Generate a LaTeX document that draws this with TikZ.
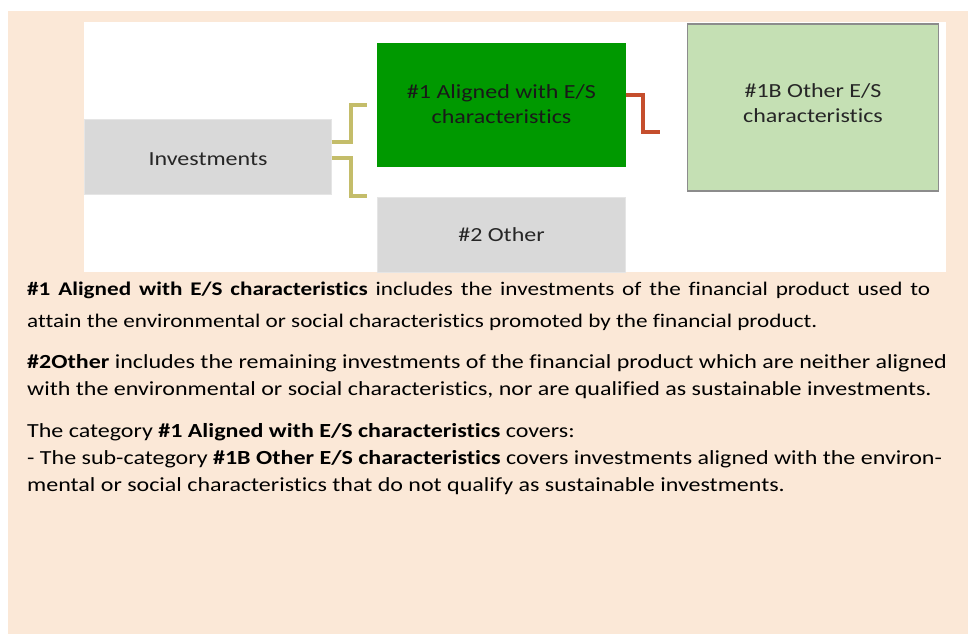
\documentclass[tikz,border=0pt]{standalone}
\usepackage{fontspec}
\setmainfont{Carlito}[FakeStretch=1.2, Ligatures=NoCommon]
\definecolor{peach}{RGB}{251,232,215}
\definecolor{boxgray}{RGB}{217,217,217}
\definecolor{textgray}{RGB}{38,38,38}
\definecolor{alignedgreen}{RGB}{0,153,0}
\definecolor{othergreen}{RGB}{197,224,180}
\definecolor{olivebracket}{RGB}{196,189,106}
\definecolor{redbracket}{RGB}{197,78,45}
\begin{document}
\begin{tikzpicture}[x=1pt,y=-1pt,
    box/.style={rectangle, draw=black!10, fill=boxgray, text=textgray, align=center,
                inner sep=0pt, font=\fontsize{20}{25}\selectfont},
    bracket/.style={line width=4pt},
    para/.style={anchor=north west, align=left, inner sep=0pt}]
    % page and diagram panel
    \fill[white] (0,0) rectangle (968,634);
    \fill[peach] (8,11) rectangle (968,634);
    \fill[white] (84,22) rectangle (946,272);
    \useasboundingbox (0,0) rectangle (968,634);

    % boxes
    \node[box, minimum width=247pt, minimum height=75pt, text height=17pt, text depth=0pt] (inv) at (208,156.5) {Investments};
    \node[box, fill=alignedgreen, draw=alignedgreen, text=black!90, minimum width=248pt, minimum height=123pt] (al) at (501.5,104.5) {\#1 Aligned with E/S\\characteristics};
    \node[box, minimum width=248pt, minimum height=75pt] (oth) at (501.5,234.5) {\#2 Other};
    \node[box, fill=othergreen, draw=black!45, line width=1.2pt, minimum width=251pt, minimum height=167pt, text depth=9pt] (osub) at (813,107.5) {\#1B Other E/S\\characteristics};

    % bracket ends
    \coordinate (alend) at ([xshift=-10pt]al.west);
    \coordinate (othend) at ([xshift=-10pt,yshift=1pt]oth.north west);
    \coordinate (osubend) at ([xshift=-27pt,yshift=-24pt]osub.west);

    \draw[bracket, olivebracket] ([yshift=15pt]inv.east) -- ++(19,0) |- (alend);
    \draw[bracket, olivebracket] ([yshift=-1pt]inv.east) -- ++(19,0) |- (othend);
    \draw[bracket, redbracket] ([yshift=10pt]al.east) -- ++(17,0) |- (osubend);

    % explanations
    \node[para, align=justify, text width=903pt, font=\fontsize{19.3}{32}\selectfont] (p1) at (27,281.5)
        {\hyphenpenalty=10000\relax
         \textbf{\#1 Aligned with E/S characteristics} includes the investments of the financial product used to\linebreak
         attain the environmental or social characteristics promoted by the financial product.};
    \node[para, font=\fontsize{20}{27}\selectfont] (p2) at (27,354)
        {\textbf{\#2Other} includes the remaining investments of the financial product which are neither aligned\\
         with the environmental or social characteristics, nor are qualified as sustainable investments.};
    \node[para, font=\fontsize{20}{27}\selectfont] (p3) at (27,423)
        {The category \textbf{\#1 Aligned with E/S characteristics} covers:\\
         - The sub-category \textbf{\#1B Other E/S characteristics} covers investments aligned with the environ-\\
         mental or social characteristics that do not qualify as sustainable investments.};
\end{tikzpicture}
\end{document}
